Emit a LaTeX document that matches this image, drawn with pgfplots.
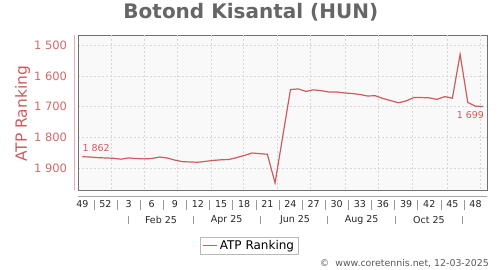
\documentclass[border=0pt]{standalone}
\usepackage{fontspec}
\setmainfont{DejaVu Sans}
\usepackage{pgfplots}
\pgfplotsset{compat=1.18}
\definecolor{atpred}{HTML}{CD5C5C}
\definecolor{ticklbl}{HTML}{D06A6A}
\definecolor{framec}{HTML}{707070}
\definecolor{gridc}{HTML}{D6D6D6}
\definecolor{bgc}{HTML}{F9F9F9}
\definecolor{titlec}{HTML}{666666}
\begin{document}
\begin{tikzpicture}[x=1pt,y=1pt]
\path[use as bounding box] (0,0) rectangle (500,270);
\begin{axis}[
  at={(78pt,80pt)}, anchor=south west,
  scale only axis, width=409pt, height=155pt,
  xmin=-0.56, xmax=52.49, ymin=1467, ymax=1970, y dir=reverse,
  axis background/.style={fill=bgc},
  axis line style={framec, line width=0.8pt},
  xtick={0,3,...,51},
  xticklabels={49,52,3,6,9,12,15,18,21,24,27,30,33,36,39,42,45,48},
  extra x ticks={3.7,8.1,12.3,16.7,20.9,25.3,29.6,34.1,38.4,42.8,47.3,51.6},
  extra x tick labels={},
  extra x tick style={grid=major},
  ytick={1500,1600,...,1900},
  ymajorgrids,
  major grid style={gridc, dash pattern=on 2pt off 2pt, line width=0.6pt},
  major tick length=0pt,
  tick style={draw=none},
  xticklabel style={font=\fontsize{9.5}{11}\selectfont, text=black!85},
  yticklabel style={font=\fontsize{11.5}{13}\selectfont, text=ticklbl},
  xticklabel shift=7pt, yticklabel shift=7.5pt,
  /pgf/number format/1000 sep={\ },
  /pgf/number format/assume math mode=true,
  legend style={at={(0.419,-0.358)}, anchor=center, draw=gray!55,
    font=\fontsize{12}{14}\selectfont, inner xsep=2pt, inner ysep=1pt},
  legend image code/.code={\draw[#1] (0pt,0pt) -- (14pt,0pt);},
]
\addplot[atpred, line width=1.2pt] coordinates {
(0,1862) (1,1863) (2,1865) (3,1866) (4,1867) (5,1870) (6,1866) (7,1868)
(8,1869) (9,1868) (10,1863) (11,1866) (12,1873) (13,1878) (14,1879) (15,1880)
(16,1877) (17,1874) (18,1872) (19,1871) (20,1865) (21,1858) (22,1850) (23,1852)
(24,1854) (25,1947) (27,1644) (28,1642) (29,1650) (30,1645) (31,1648) (32,1652)
(33,1652) (34,1655) (35,1657) (36,1660) (37,1665) (38,1664) (39,1673) (40,1680)
(41,1687) (42,1681) (43,1670) (44,1670) (45,1671) (46,1676) (47,1667) (48,1672)
(49,1530) (50,1686) (51,1698) (52,1699)
};
\addlegendentry{ATP Ranking}
\node[anchor=south west, inner sep=0pt, yshift=5pt, text=atpred,
  font=\fontsize{9.5}{11}\selectfont] at (axis cs:0,1862) {1\ 862};
\node[anchor=north east, inner sep=0pt, yshift=-4.5pt, xshift=1pt, text=atpred,
  font=\fontsize{9.5}{11}\selectfont] at (axis cs:52,1699) {1\ 699};
\end{axis}
% axis decorations
\draw[gray!70, line width=0.6pt] (78,74) -- (487,74);
\draw[ticklbl!55, line width=0.6pt] (74.3,80) -- (74.3,235);
\foreach \k in {0,...,16} \draw[gray!80, line width=0.5pt] ({82.3+7.71*(1.5+3*\k)},70) -- ++(0,-10);
\foreach \p in {128.1,193.3,260.4,327.5,395.3,462.4} \draw[gray!80, line width=0.5pt] (\p,54.3) -- ++(0,-8.6);
\foreach \p/\t in {161/Feb 25,226.7/Apr 25,295/Jun 25,361.7/Aug 25,429/Oct 25}
  \node[font=\fontsize{9.5}{11}\selectfont, text=black!85] at (\p,50) {\t};
\node[font=\fontsize{20}{24}\selectfont\bfseries, text=titlec] at (250.8,257.5) {Botond Kisantal (HUN)};
\node[rotate=90, font=\fontsize{15.5}{18}\selectfont, text=atpred] at (22.5,156.3) {ATP Ranking};
\node[anchor=east, inner sep=0pt, font=\fontsize{9.4}{11}\selectfont, text=black!65] at (489,6.7) {©\ \ www.coretennis.net, 12-03-2025};
\end{tikzpicture}
\end{document}
